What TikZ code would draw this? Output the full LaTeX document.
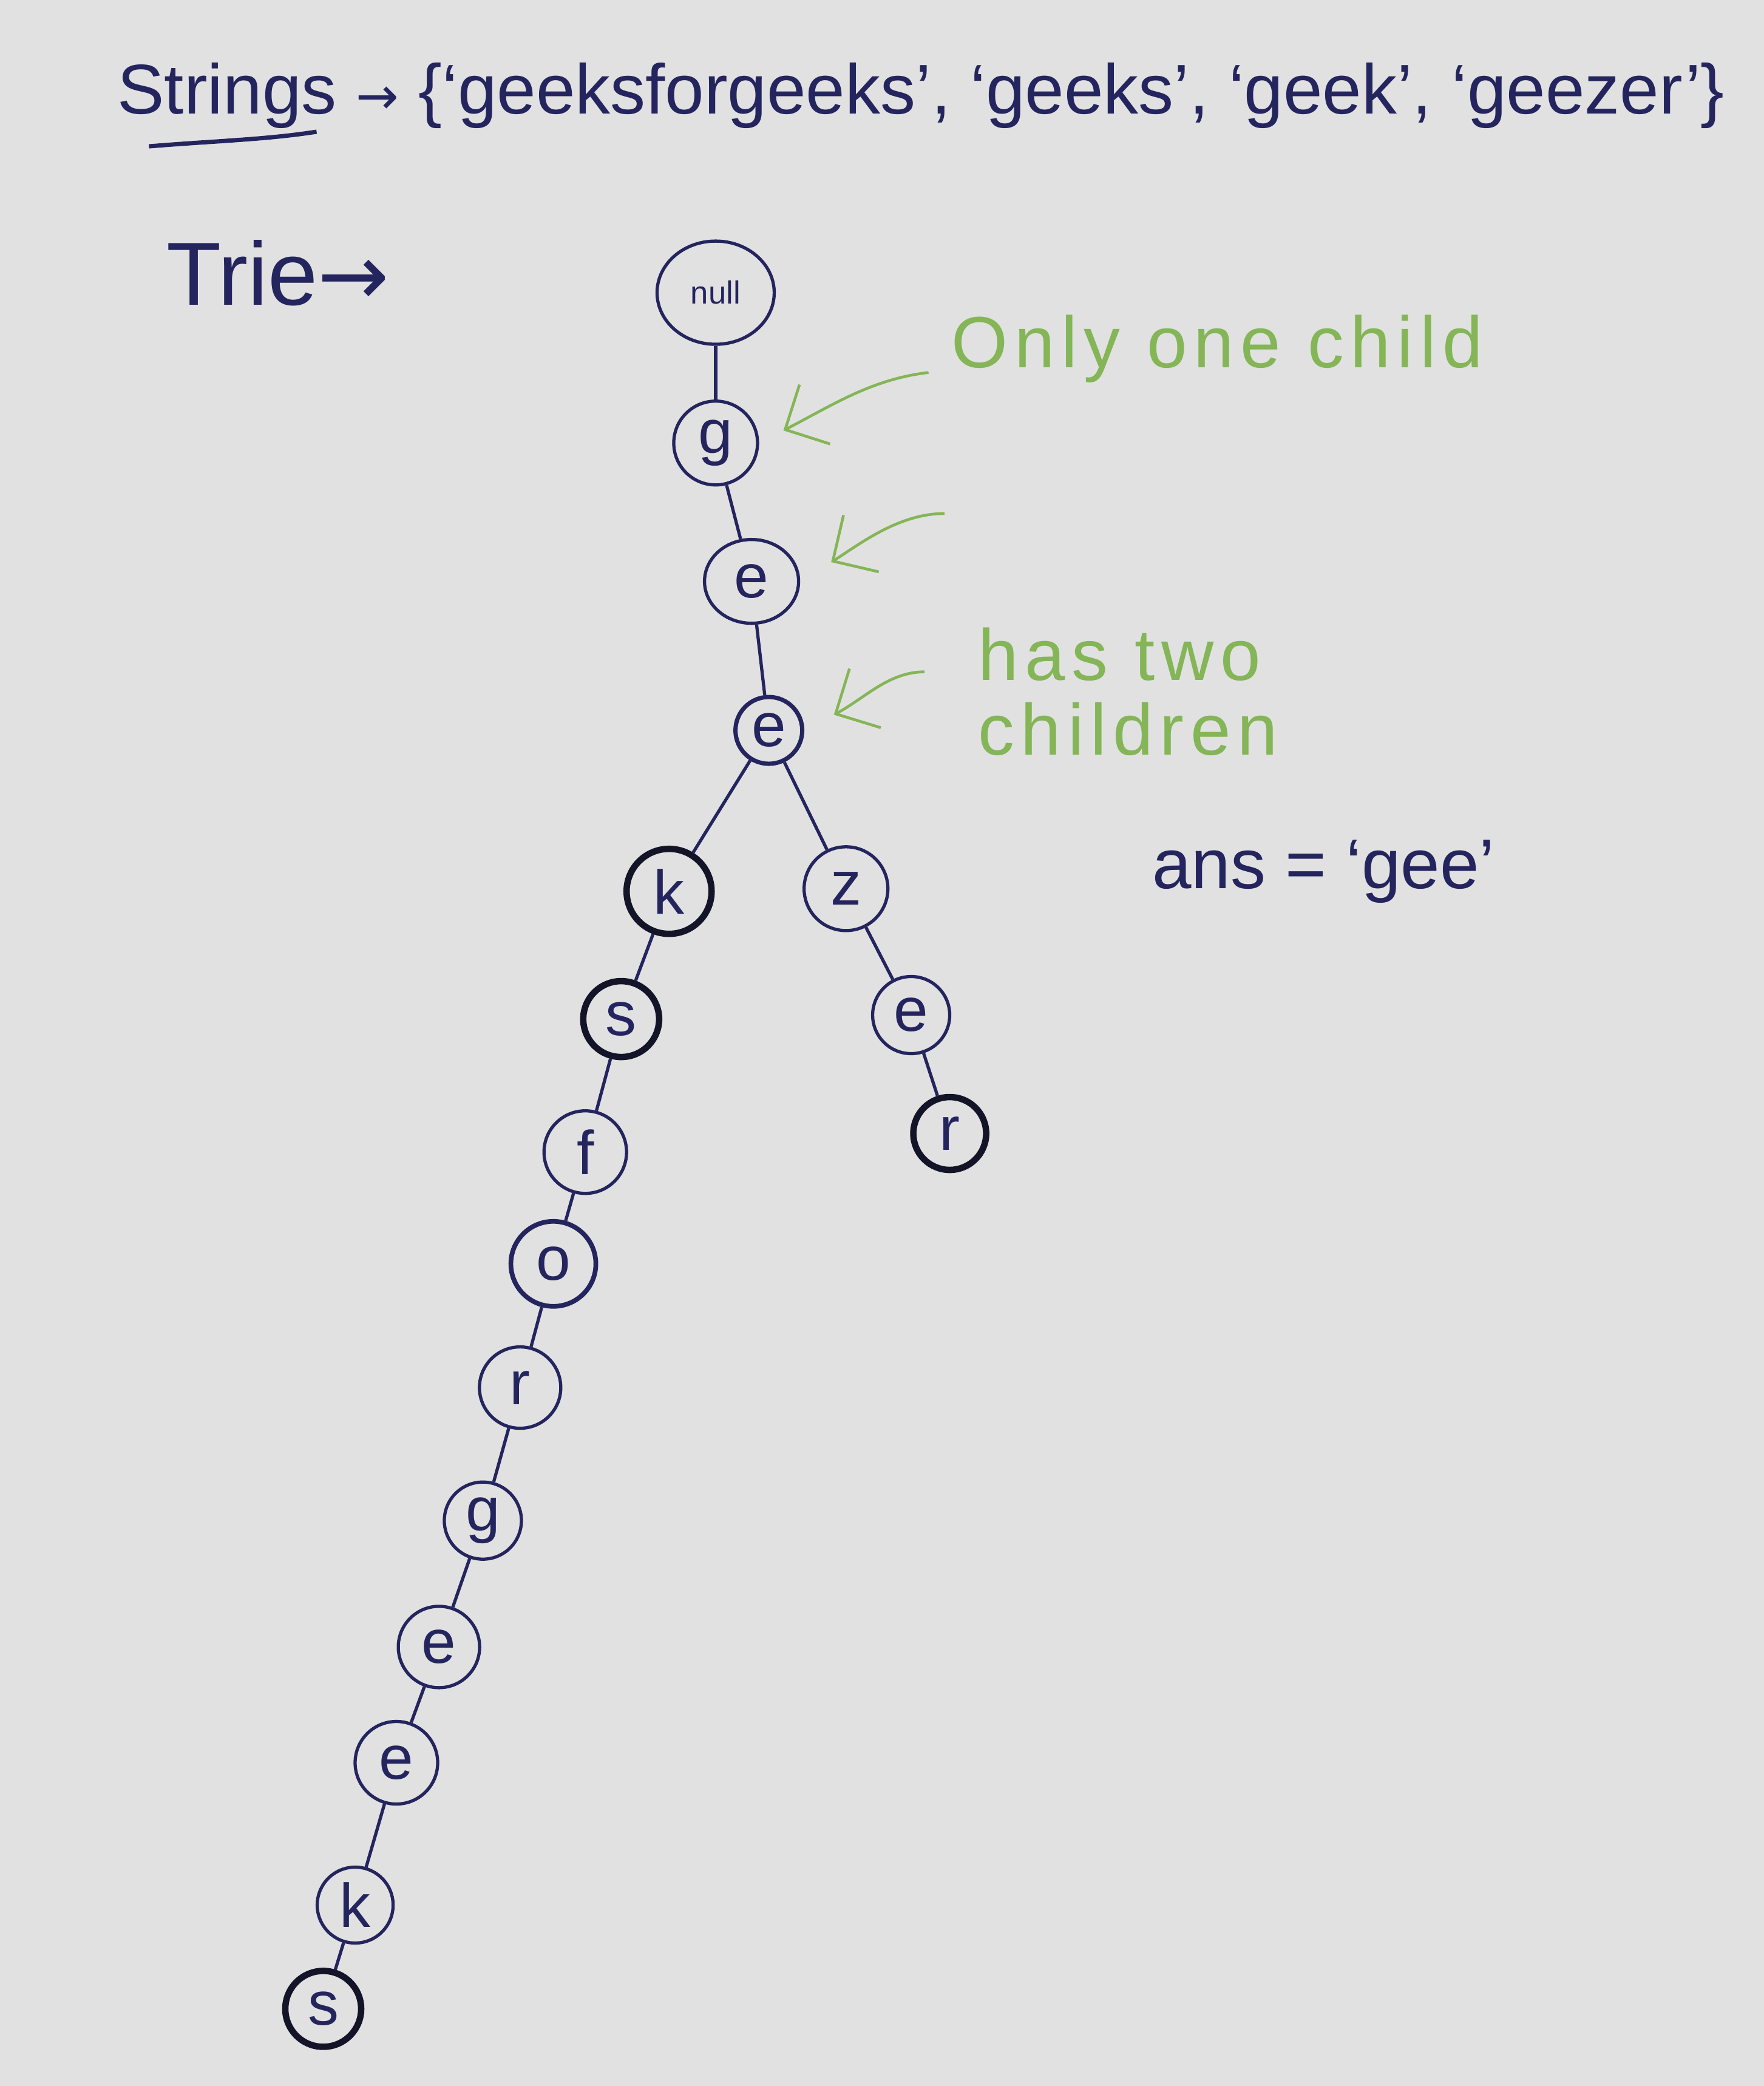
\documentclass[tikz,border=0pt]{standalone}
\usepackage{fontspec}
\setmainfont{Liberation Sans}
\newfontfamily\djv{DejaVu Sans}
\usetikzlibrary{arrows.meta,shapes.geometric}
\definecolor{bg}{HTML}{E1E1E1}
\definecolor{ink}{HTML}{24245E}
\definecolor{inkdark}{HTML}{141428}
\definecolor{pen}{HTML}{84B556}
\begin{document}
\begin{tikzpicture}[x=0.021916cm,y=-0.021916cm,
  tn/.style={circle,draw=ink,line width=1.5pt,inner sep=0pt,minimum size=1.33cm,
    font=\fontsize{29}{29}\selectfont,text=ink},
  boldnode/.style={draw=inkdark,line width=3pt},
  edge/.style={draw=ink,line width=1.5pt},
  label/.style={text=ink,font=\fontsize{33}{36}\selectfont,inner sep=0pt},
  note/.style={text=pen,font=\fontsize{34}{35}\selectfont\addfontfeature{LetterSpace=9},inner sep=0pt,align=left},
  garrow/.style={draw=pen,line width=1.3pt,-{Straight Barb[length=0.55cm,width=1.1cm]}}]
\fill[bg] (0,0) rectangle (1326,1568);
\useasboundingbox (0,0) rectangle (1326,1568);

% headings
\node[label,anchor=west] (title) at (88,72)
  {Strings {\djv\fontsize{24}{24}\selectfont →} \{`geeksforgeeks', `geeks', `geek', `geezer'\}};
\coordinate (ul1) at (112,110);
\coordinate (ul2) at (238,99);
\draw[ink,line width=2pt] (ul1) .. controls (160,106) and (200,105) .. (ul2);
\node[label,anchor=west,font=\fontsize{42}{44}\selectfont] (trie) at (125,205) {Trie{\djv\fontsize{40}{40}\selectfont →}};

% trie
\node[tn,ellipse,minimum width=1.93cm,minimum height=1.7cm,font=\fontsize{15}{15}\selectfont] (root) at (538,220) {null};
\node[tn,minimum size=1.38cm] (g1) at (538,333) {g};
\node[tn,ellipse,minimum width=1.55cm,minimum height=1.38cm] (e1) at (565,437) {e};
\node[tn,minimum size=1.1cm,line width=2pt] (e2) at (578,549) {e};
\node[tn,boldnode,minimum size=1.4cm] (k1) at (503,670) {k};
\node[tn,minimum size=1.38cm] (z) at (636,668) {z};
\node[tn,boldnode,minimum size=1.25cm] (s1) at (467,766) {s};
\node[tn,minimum size=1.27cm] (e3) at (685,763) {e};
\node[tn,boldnode,minimum size=1.2cm] (r1) at (714,852) {r};
\node[tn,minimum size=1.36cm] (f) at (440,866) {f};
\node[tn,line width=2.2pt,minimum size=1.4cm] (o) at (416,950) {o};
\node[tn,minimum size=1.34cm] (r2) at (391,1043) {r};
\node[tn,minimum size=1.27cm] (g2) at (363,1143) {g};
\node[tn,minimum size=1.34cm] (e4) at (330,1238) {e};
\node[tn,minimum size=1.36cm] (e5) at (298,1325) {e};
\node[tn,minimum size=1.25cm] (k2) at (267,1432) {k};
\node[tn,boldnode,minimum size=1.25cm] (s2) at (243,1510) {s};

\draw[edge] (root) -- (g1);
\draw[edge] (g1) -- (e1);
\draw[edge] (e1) -- (e2);
\draw[edge] (e2) -- (k1);
\draw[edge] (e2) -- (z);
\draw[edge] (k1) -- (s1);
\draw[edge] (s1) -- (f);
\draw[edge] (f) -- (o);
\draw[edge] (o) -- (r2);
\draw[edge] (r2) -- (g2);
\draw[edge] (g2) -- (e4);
\draw[edge] (e4) -- (e5);
\draw[edge] (e5) -- (k2);
\draw[edge] (k2) -- (s2);
\draw[edge] (z) -- (e3);
\draw[edge] (e3) -- (r1);

% notes
\node[note,anchor=west] (one) at (715,262) {Only one child};
\node[note,anchor=west] (two) at (735,520) {has two\\children};
\node[label,anchor=west,font=\fontsize{33}{36}\selectfont] (ans) at (866,655) {ans = `gee'};

\coordinate (a1) at (698,280);
\coordinate (a2) at (710,386);
\coordinate (a3) at (695,505);
\draw[garrow,shorten >=0.45cm] (a1) .. controls (655,285) and (625,305) .. (g1.east);
\draw[garrow,shorten >=0.6cm] (a2) .. controls (675,386) and (645,410) .. (e1.east);
\draw[garrow,shorten >=0.55cm] (a3) .. controls (668,505) and (650,525) .. (e2.east);
\end{tikzpicture}
\end{document}
